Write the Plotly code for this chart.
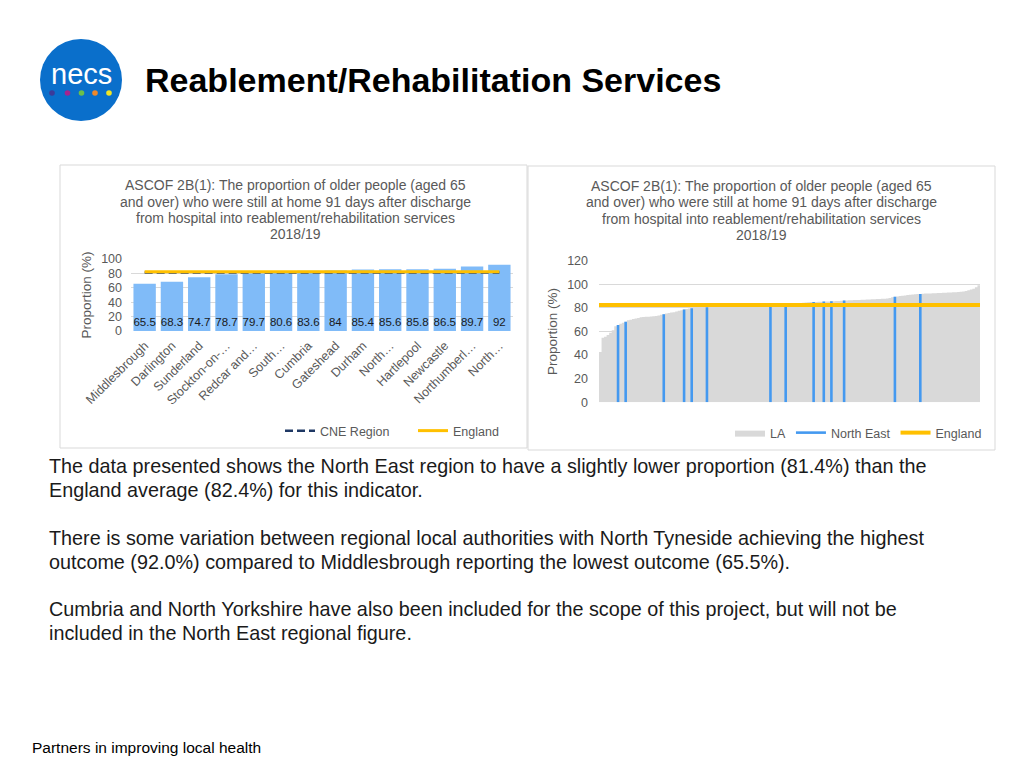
import plotly.graph_objects as go

# ---------------- data ----------------
LEFT_CATEGORIES = ["Middlesbrough", "Darlington", "Sunderland", "Stockton-on-Tees",
                   "Redcar and Cleveland", "South Tyneside", "Cumbria", "Gateshead",
                   "Durham", "North Yorkshire", "Hartlepool", "Newcastle",
                   "Northumberland", "North Tyneside"]
LEFT_TICK_LABELS = ["Middlesbrough", "Darlington", "Sunderland", "Stockton-on-…",
                    "Redcar and…", "South…", "Cumbria", "Gateshead", "Durham",
                    "North…", "Hartlepool", "Newcastle", "Northumberl…", "North…"]
LEFT_VALUES = [65.5, 68.3, 74.7, 78.7, 79.7, 80.6, 83.6, 84, 85.4, 85.6, 85.8, 86.5, 89.7, 92]
CNE_REGION = 81.4
ENGLAND = 82.4

# all local authorities in England, sorted ascending
LA_VALUES = [
    42.7, 54.8, 55.5, 57.0, 59.0, 61.0, 64.4, 65.5, 66.5, 67.5,
    68.3, 69.5, 70.0, 70.5, 71.0, 71.5, 72.0, 72.2, 72.4, 72.6,
    72.8, 73.0, 73.2, 73.6, 74.2, 74.7, 75.2, 75.6, 76.0, 76.4,
    77.0, 77.5, 78.0, 78.7, 79.0, 79.4, 79.7, 79.9, 80.0, 80.2,
    80.4, 80.5, 80.6, 80.7, 80.7, 80.8, 80.8, 80.9, 80.9, 80.9,
    81.0, 81.0, 81.0, 81.0, 81.1, 81.1, 81.1, 81.1, 81.2, 81.2,
    81.2, 81.2, 81.2, 81.3, 81.3, 81.3, 81.3, 81.4, 81.8, 82.2,
    82.6, 83.0, 83.3, 83.6, 83.7, 83.8, 83.9, 84.0, 84.1, 84.2,
    84.4, 84.5, 84.7, 84.9, 85.0, 85.1, 85.2, 85.3, 85.4, 85.5,
    85.5, 85.6, 85.7, 85.8, 85.9, 86.1, 86.2, 86.3, 86.4, 86.5,
    86.6, 86.7, 86.8, 86.9, 87.0, 87.1, 87.2, 87.3, 87.4, 87.5,
    87.6, 87.7, 87.8, 88.0, 88.4, 89.0, 89.5, 89.7, 90.0, 90.3,
    90.6, 90.9, 91.1, 91.3, 91.5, 91.7, 91.8, 92.0, 92.1, 92.2,
    92.3, 92.4, 92.5, 92.6, 92.7, 92.8, 92.9, 93.0, 93.1, 93.2,
    93.3, 93.5, 93.7, 94.0, 94.4, 94.9, 95.5, 96.3, 97.4, 99.2,
]
# values of the North East authorities (highlighted in blue)
NE_VALUES = [65.5, 68.3, 74.7, 78.7, 79.7, 80.6, 81.4, 83.6, 85.0, 85.4, 85.6, 86.2, 89.5, 91.8]

TITLE = "Reablement/Rehabilitation Services"
CHART_TITLE_LINES = ["ASCOF 2B(1): The proportion of older people (aged 65",
                     "and over) who were still at home 91 days after discharge",
                     "from hospital into reablement/rehabilitation services",
                     "2018/19"]
BODY_LINES = [
    "The data presented shows the North East region to have a slightly lower proportion (81.4%) than the",
    "England average (82.4%) for this indicator.",
    "There is some variation between regional local authorities with North Tyneside achieving the highest",
    "outcome (92.0%) compared to Middlesbrough reporting the lowest outcome (65.5%).",
    "Cumbria and North Yorkshire have also been included for the scope of this project, but will not be",
    "included in the North East regional figure.",
]
FOOTER = "Partners in improving local health"

# ---------------- helpers ----------------
W, H = 1024, 768
FONT = "Liberation Sans, Arial, sans-serif"
GREY_TXT = "#595959"
GRID = "#D9D9D9"
GOLD = "#FFC000"


def px(x):
    return x / W


def py(y):
    return 1 - y / H


fig = go.Figure()

# ---------------- left chart ----------------
fig.add_trace(go.Bar(
    x=LEFT_CATEGORIES, y=LEFT_VALUES, marker=dict(color="#80BBF8", line=dict(width=0)),
    text=[f"{v:g}" for v in LEFT_VALUES], textposition="inside", insidetextanchor="start",
    constraintext="none", cliponaxis=False,
    textfont=dict(size=11.5, color="#1a1a1a", family=FONT), textangle=0,
    showlegend=False, xaxis="x", yaxis="y", hoverinfo="x+y"))
fig.add_trace(go.Scatter(
    x=LEFT_CATEGORIES, y=[CNE_REGION] * len(LEFT_CATEGORIES), mode="lines",
    line=dict(color="#1F3864", width=2.5, dash="8px,4px"), name="CNE Region",
    xaxis="x", yaxis="y", legend="legend"))
fig.add_trace(go.Scatter(
    x=LEFT_CATEGORIES, y=[ENGLAND] * len(LEFT_CATEGORIES), mode="lines",
    line=dict(color=GOLD, width=3), name="England",
    xaxis="x", yaxis="y", legend="legend"))

# ---------------- right chart ----------------
n_la = len(LA_VALUES)
step_x = [i - 0.5 for i in range(n_la)] + [n_la - 0.5]
step_y = LA_VALUES + [LA_VALUES[-1]]
fig.add_trace(go.Scatter(
    x=step_x, y=step_y, mode="lines", line=dict(width=0, color="#D9D9D9", shape="hv"),
    fill="tozeroy", fillcolor="#D9D9D9", name="LA",
    xaxis="x2", yaxis="y2", legend="legend2"))
ne_x, ne_y = [], []
for i, v in enumerate(LA_VALUES):
    if v in NE_VALUES:
        ne_x += [i, i, None]
        ne_y += [0, v, None]
fig.add_trace(go.Scatter(
    x=ne_x, y=ne_y, mode="lines", line=dict(color="#4499F0", width=2.6),
    name="North East", xaxis="x2", yaxis="y2", legend="legend2"))
fig.add_trace(go.Scatter(
    x=[-0.5, n_la - 0.5], y=[ENGLAND, ENGLAND], mode="lines",
    line=dict(color=GOLD, width=4), name="England",
    xaxis="x2", yaxis="y2", legend="legend2"))

axis_font = dict(family=FONT, size=12.5, color=GREY_TXT)
title_font = dict(family=FONT, size=13.5, color=GREY_TXT)

fig.update_layout(
    template="none",
    width=W, height=H, autosize=False,
    margin=dict(l=0, r=0, t=0, b=0, autoexpand=False),
    paper_bgcolor="white", plot_bgcolor="rgba(0,0,0,0)",
    barmode="overlay", bargap=0.18,
    font=dict(family=FONT, color=GREY_TXT),
    hovermode="closest",
    xaxis=dict(domain=[px(131), px(513)], type="category",
               tickvals=LEFT_CATEGORIES, ticktext=LEFT_TICK_LABELS,
               tickangle=-45, tickfont=axis_font, showgrid=False, showline=False,
               ticks="", ticklabelstandoff=4, anchor="y", fixedrange=True, automargin=False),
    yaxis=dict(domain=[py(331), py(259)], range=[0, 100], dtick=20,
               tickfont=axis_font, showgrid=True, gridcolor=GRID, gridwidth=1, zeroline=False,
               showline=False, ticks="", ticklabelstandoff=8, anchor="x", automargin=False,
               title=dict(text="Proportion (%)", font=title_font, standoff=6), fixedrange=True),
    xaxis2=dict(domain=[px(599), px(980)], range=[-0.5, n_la - 0.5],
                showticklabels=False, showgrid=False, showline=False, zeroline=False,
                ticks="", anchor="y2", fixedrange=True, automargin=False),
    yaxis2=dict(domain=[py(402.3), py(260.7)], range=[0, 120], dtick=20,
                tickfont=axis_font, showgrid=True, gridcolor=GRID, gridwidth=1, zeroline=False,
                showline=False, ticks="", ticklabelstandoff=10, anchor="x2", automargin=False,
                title=dict(text="Proportion (%)", font=title_font, standoff=6), fixedrange=True),
    legend=dict(orientation="h", x=px(280), y=py(416), xanchor="left", yanchor="top",
                font=dict(family=FONT, size=12.5, color=GREY_TXT), bgcolor="rgba(0,0,0,0)",
                traceorder="normal", entrywidth=88),
    legend2=dict(orientation="h", x=px(730), y=py(418), xanchor="left", yanchor="top",
                 font=dict(family=FONT, size=12.5, color=GREY_TXT), bgcolor="rgba(0,0,0,0)",
                 traceorder="normal"),
)

# ---------------- panel borders & logo ----------------
shapes = [
    dict(type="rect", xref="paper", yref="paper", x0=px(60), x1=px(527), y0=py(448), y1=py(165),
         line=dict(color=GRID, width=1), fillcolor="rgba(0,0,0,0)", layer="below"),
    dict(type="rect", xref="paper", yref="paper", x0=px(528), x1=px(995), y0=py(450), y1=py(166),
         line=dict(color=GRID, width=1), fillcolor="rgba(0,0,0,0)", layer="below"),
    dict(type="circle", xref="paper", yref="paper", x0=px(40), x1=px(122), y0=py(121), y1=py(39),
         fillcolor="#0A6FCB", line=dict(width=0)),
]
dot_colors = ["#3B3B9A", "#A4258F", "#6CC04A", "#F0882A", "#F2E622"]
dot_x = [52, 67.5, 81.5, 95, 109]
for c, xx in zip(dot_colors, dot_x):
    shapes.append(dict(type="circle", xref="paper", yref="paper",
                       x0=px(xx - 2.8), x1=px(xx + 2.8), y0=py(93 + 2.8), y1=py(93 - 2.8),
                       fillcolor=c, line=dict(width=0)))
fig.update_layout(shapes=shapes)

# ---------------- text ----------------
ann = [
    dict(text="necs", x=px(81), y=py(74), xref="paper", yref="paper", showarrow=False,
         font=dict(family="Liberation Sans, Arial", size=29, color="white"), xanchor="center",
         yanchor="middle"),
    dict(text=f"<b>{TITLE}</b>", x=px(143), y=py(80), xref="paper", yref="paper", showarrow=False,
         font=dict(family=FONT, size=34, color="black"), xanchor="left", yanchor="middle"),
    dict(text=FOOTER, x=px(30), y=py(747), xref="paper", yref="paper", showarrow=False,
         font=dict(family=FONT, size=15.5, color="black"), xanchor="left", yanchor="middle"),
]
for cx, ys in [(295, [185, 202, 218, 234]), (761.5, [186, 202, 219, 235])]:
    for line, yy in zip(CHART_TITLE_LINES, ys):
        ann.append(dict(text=line, x=px(cx), y=py(yy), xref="paper", yref="paper",
                        showarrow=False, font=dict(family=FONT, size=14, color=GREY_TXT),
                        xanchor="center", yanchor="middle"))
for line, yy in zip(BODY_LINES, [466, 490, 538, 562, 609, 633]):
    ann.append(dict(text=line, x=px(47), y=py(yy), xref="paper", yref="paper", showarrow=False,
                    font=dict(family=FONT, size=19.8, color="#1a1a1a"), xanchor="left",
                    yanchor="middle"))
fig.update_layout(annotations=ann)

fig.write_html("out.html", config={"displayModeBar": False},
               post_script="document.body.style.margin='0';document.body.style.overflow='hidden';")
